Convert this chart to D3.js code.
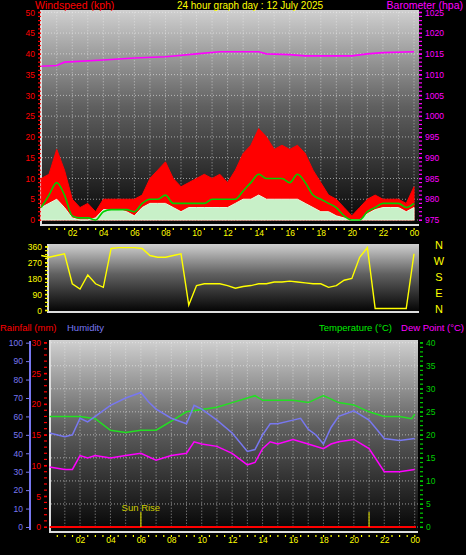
<!DOCTYPE html>
<html><head><meta charset="utf-8">
<script src="https://cdn.jsdelivr.net/npm/d3@7/dist/d3.min.js"></script>
<style>body{margin:0;background:#000}svg{display:block;font-family:"Liberation Sans",Arial,sans-serif}</style>
</head><body><svg id="c" width="466" height="555"></svg>
<script>
const hourTicks=[2,4,6,8,10,12,14,16,18,20,22,24];
const hourLabels=["02","04","06","08","10","12","14","16","18","20","22","00"];
const halfHours=d3.range(0,24.01,0.5);
const gust=[10,11,17,12,5,3,4,2,5,5,5,5,5,6,10,12,14,10,8,9,10,11,10,11,9,12,16,18,22,20,17,18,17,18,16,12,9,6,5,3,1,3,5,6,5,5,5,4,8];
const avgWind=[3,4,5,3,0.5,0,0,0.5,2.5,2.5,2.5,2,1,3,4,4,4,3,2,3,3,3,3,3,3,4,5,5,6,5,5,5,5,5,4,3,2,2,1,0.5,0,0,1.5,2.5,3,3,3,2,3];
const tenMin=[3,6,9,6,1,0.5,0.5,0,2,2.5,2.5,2.5,2,4,5,5,6,4,4,4,4,4,5,5,5,5,7,9,11,10,10,10,9,11,9,6,5,4,3,1,0,0,2,3,4,4,4,3,4];
const baroHours=[0,1,1.5,4,6,8,10,11.5,14,14.5,16,17,20,21,22,24];
const baro=[1012,1012.2,1013,1013.5,1014,1014.3,1015,1015.5,1015.5,1015,1014.8,1014.5,1014.5,1015,1015.3,1015.5];
const dirVals=[310,300,310,320,150,120,200,150,130,350,355,355,355,350,310,300,300,310,320,30,140,150,150,150,140,125,135,140,150,150,160,160,165,160,155,150,150,130,140,170,180,300,355,10,10,10,10,10,320];
const tempHours=[0,1,2,3,4,5,6,7,8,9,10,11,12,13,13.5,14,15,16,17,18,19,20,21,22,23,23.8,24];
const temp=[24,24,24,23.5,21,20.5,21,21,23,25,25.5,26,27,28,28.5,27.5,27.5,27.5,27,28.5,27,26.5,25,24,24,23.5,24.5];
const humHours=[0,1,1.5,2,2.5,3,4,5,6,6.5,7,8,9,9.5,10,11,12,13,13.5,14,14.5,15,16,16.5,17,17.5,18,18.5,19,20,21,22,23,24];
const hum=[51,49,50,59,57,60,66,70,73,68,64,59,56,66,64,58,51,41,42,50,56,56,58,59,53,50,45,54,60,63,58,48,47,48];
const dewHours=[0,1,1.5,2,2.5,3,4,5,6,7,8,9,9.5,10,11,12,13,13.5,14,14.5,15,16,17,18,18.5,19,20,21,22,23,24];
const dew=[13,12.5,12.5,15.5,15,15.5,15,15.5,16,14.5,15.5,16,18.5,18,17.5,16,13.5,14,17,18.5,18,19,18,17,18,18.5,19,17,12,12,12.5];
const rainHours=[0,24.2];const rain=[0,0];
const compass=["N","W","S","E","N"];

const svg=d3.select("#c");
const defs=svg.append("defs");
const g=defs.append("linearGradient").attr("id","bg").attr("x1",0).attr("y1",0).attr("x2",0).attr("y2",1);
g.append("stop").attr("offset","0").attr("stop-color","#d0d0d0");
g.append("stop").attr("offset","0.45").attr("stop-color","#606060");
g.append("stop").attr("offset","1").attr("stop-color","#050505");

function panel(x0,x1,y0,y1){
  svg.append("rect").attr("x",x0).attr("y",y0).attr("width",x1-x0).attr("height",y1-y0).attr("fill","url(#bg)");
  svg.append("line").attr("x1",x0).attr("x2",x1).attr("y1",y1+1).attr("y2",y1+1).attr("stroke","#ddd").attr("stroke-width",2);
  svg.append("line").attr("x1",x0-1).attr("x2",x0-1).attr("y1",y0).attr("y2",y1+2).attr("stroke","#ddd").attr("stroke-width",2);
}
function grid(x,y,x0,x1,yt){
  const gg=svg.append("g").attr("stroke","#eee").attr("stroke-opacity",0.6).attr("stroke-dasharray","1,2");
  d3.range(1,25).forEach(h=>{const px=x(h);if(px>x0&&px<x1)gg.append("line").attr("x1",px).attr("x2",px).attr("y1",y.range()[1]).attr("y2",y.range()[0]);});
  yt.forEach(v=>gg.append("line").attr("x1",x0).attr("x2",x1).attr("y1",y(v)).attr("y2",y(v)));
}
function txt(x,y,s,c,anchor,size){return svg.append("text").attr("x",x).attr("y",y).attr("fill",c).attr("text-anchor",anchor||"start").attr("font-size",size||10.5).text(s);}
function xAxis(x,y,ty){
  svg.append("g").attr("transform",`translate(0,${y})`).call(d3.axisBottom(x).tickValues(hourTicks).tickFormat((d,i)=>hourLabels[i]).tickSize(0).tickPadding(ty))
   .call(a=>{a.select(".domain").remove();a.selectAll("text").attr("fill","#ff0").attr("font-size",8.5).attr("font-family","Liberation Sans");});
  const tk=svg.append("g").attr("fill","#ff0");
  d3.range(0.5,24.3,0.5).forEach(h=>tk.append("rect").attr("x",x(h)-0.5).attr("y",y+2).attr("width",1.2).attr("height",2));
}
function yAxis(y,xpos,vals,color,side,minor){
  const ax=(side==="left"?d3.axisLeft(y):d3.axisRight(y)).tickValues(vals).tickFormat(d3.format("d")).tickSize(3).tickPadding(3);
  svg.append("g").attr("transform",`translate(${xpos},0)`).call(ax).call(a=>{a.select(".domain").remove();a.selectAll("line").attr("stroke",color);a.selectAll("text").attr("fill",color).attr("font-size",8.5).attr("font-family","Liberation Sans");});
  if(minor){const d=y.domain();const tg=svg.append("g").attr("fill",color);
    d3.range(d[0],d[1]+0.001,minor).forEach(v=>tg.append("rect").attr("x",side==="left"?xpos-3:xpos).attr("y",y(v)-0.6).attr("width",3).attr("height",1.2));}
}

const xT=d3.scaleLinear().domain([0,24]).range([41.2,414]);
const yW=d3.scaleLinear().domain([0,50]).range([220,12.3]);
const yB=d3.scaleLinear().domain([975,1025]).range([220,12.3]);
panel(42,419,10,224);
grid(xT,yW,42,419,d3.range(0,51,5));
svg.append("path").datum(gust).attr("fill","#f00").attr("stroke","#f00").attr("stroke-width",1)
 .attr("d",d3.area().x((d,i)=>xT(halfHours[i])).y0(yW(0)).y1(d=>yW(d)));
svg.append("path").datum(avgWind).attr("fill","#c8f0c8").attr("stroke","#e0ffe0").attr("stroke-width",1)
 .attr("d",d3.area().x((d,i)=>xT(halfHours[i])).y0(yW(0)).y1(d=>yW(d)));
svg.append("path").datum(tenMin).attr("fill","none").attr("stroke","#00d000").attr("stroke-width",1.6)
 .attr("d",d3.line().x((d,i)=>xT(halfHours[i])).y(d=>yW(d)).curve(d3.curveMonotoneX));
svg.append("path").datum(baro).attr("fill","none").attr("stroke","#f0f").attr("stroke-width",1.6)
 .attr("d",d3.line().x((d,i)=>xT(baroHours[i])).y(d=>yB(d)));
yAxis(yW,41,d3.range(0,51,5),"#f00","left",1);
yAxis(yB,419,d3.range(975,1026,5),"#f0f","right",1);
xAxis(xT,226,4);
txt(35,9,"Windspeed (kph)","#f00");
txt(250,9,"24 hour graph day : 12 July 2025","#ff0","middle",10);
txt(463,9,"Barometer (hpa)","#f0f","end");

const yD=d3.scaleLinear().domain([0,360]).range([310.3,246.7]);
panel(49,419,244,311);
svg.append("path").datum(dirVals).attr("fill","none").attr("stroke","#ff0").attr("stroke-width",1.4)
 .attr("d",d3.line().x((d,i)=>xT(halfHours[i])).y(d=>yD(d)));
yAxis(yD,48,[0,90,180,270,360],"#ff0","left",22.5);
compass.forEach((c,i)=>txt(439,249+i*16,c,"#ff0","middle",11));

const xB=d3.scaleLinear().domain([0,24]).range([49.6,414.7]);
const yTmp=d3.scaleLinear().domain([0,40]).range([527,342.7]);
const yH=d3.scaleLinear().domain([0,100]).range([527,342.7]);
const yR=d3.scaleLinear().domain([0,30]).range([527,342.7]);
panel(51,418,340,531);
grid(xB,yTmp,51,418,d3.range(0,41,5));
svg.append("path").datum(rain).attr("fill","none").attr("stroke","#f00").attr("stroke-width",2.2)
 .attr("d",d3.line().x((d,i)=>Math.min(xB(rainHours[i]),416)).y(d=>yR(d)));
svg.append("path").datum(temp).attr("fill","none").attr("stroke","#22e022").attr("stroke-width",1.5)
 .attr("d",d3.line().x((d,i)=>xB(tempHours[i])).y(d=>yTmp(d)));
svg.append("path").datum(hum).attr("fill","none").attr("stroke","#7878f0").attr("stroke-width",1.5)
 .attr("d",d3.line().x((d,i)=>xB(humHours[i])).y(d=>yH(d)));
svg.append("path").datum(dew).attr("fill","none").attr("stroke","#f0f").attr("stroke-width",1.5)
 .attr("d",d3.line().x((d,i)=>xB(dewHours[i])).y(d=>yTmp(d)));
[6,21].forEach(h=>svg.append("line").attr("x1",xB(h)).attr("x2",xB(h)).attr("y1",512).attr("y2",527).attr("stroke","#cc0").attr("stroke-width",1.2));
txt(xB(6),511,"Sun Rise","#cc0","middle",9.5);
svg.append("line").attr("x1",30).attr("x2",30).attr("y1",341).attr("y2",530).attr("stroke","#7878f0").attr("stroke-width",2);
yAxis(yH,29,d3.range(0,101,10),"#7878f0","left",0);
yAxis(yR,47,d3.range(0,31,5),"#f00","left",1);
yAxis(yTmp,420,d3.range(0,41,5),"#0c0","right",1);
xAxis(xB,533,4);
txt(0,331,"Rainfall (mm)","#f00",null,9.5);
txt(67,331,"Humidity","#7878f0",null,9.5);
txt(392,331,"Temperature (°C)","#0e0","end",9.5);
txt(464,331,"Dew Point (°C)","#f0f","end",9.5);
</script></body></html>
